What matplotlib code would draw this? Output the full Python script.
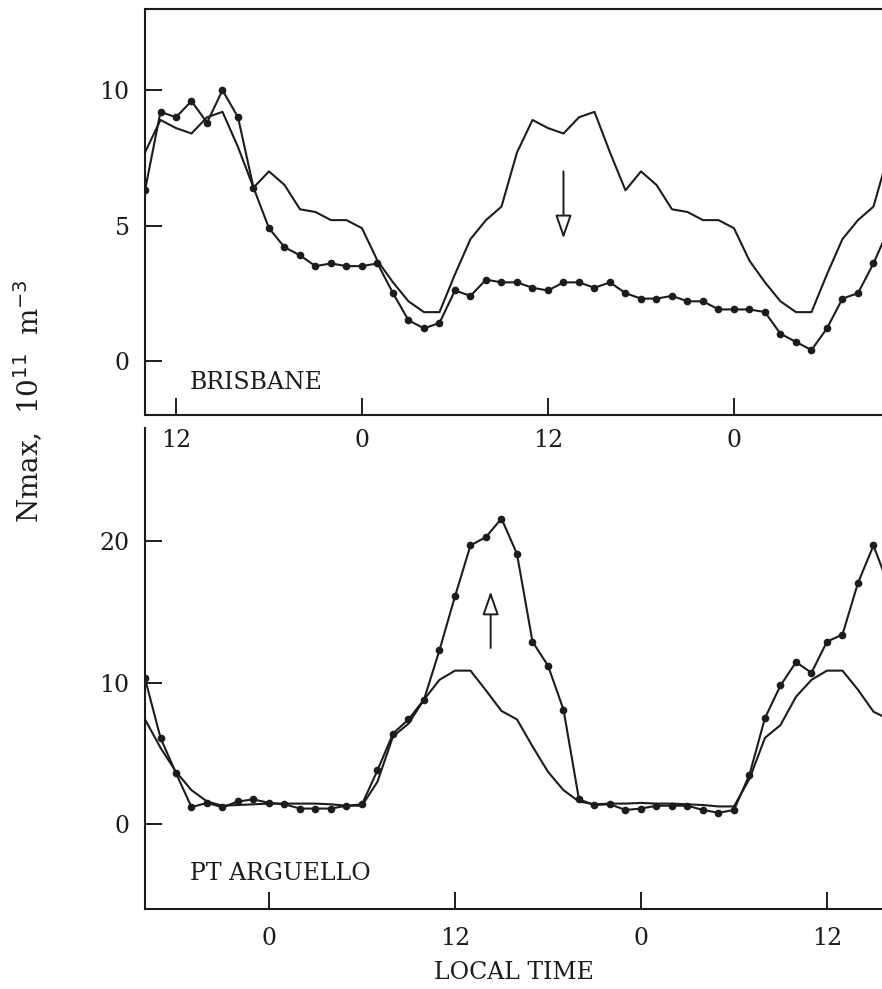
import numpy as np
import matplotlib
matplotlib.use("Agg")
import matplotlib.pyplot as plt

plt.rcParams["font.family"] = ["DejaVu Serif"]
plt.rcParams["font.size"] = 17

INK = "#1c1c1c"

# hourly samples, hours counted from local midnight of day 0
hours_top = np.arange(10, 59)
hours_bot = np.arange(16, 65)

# Brisbane: observed (dotted) and quiet-day reference (plain)
brisbane_obs = [
    6.3, 9.2, 9.0, 9.6, 8.8, 10.0, 9.0, 6.4, 4.9, 4.2, 3.9, 3.5, 3.6, 3.5,
    3.5, 3.6, 2.5, 1.5, 1.2, 1.4, 2.6, 2.4, 3.0, 2.9, 2.9, 2.7, 2.6, 2.9,
    2.9, 2.7, 2.9, 2.5, 2.3, 2.3, 2.4, 2.2, 2.2, 1.9, 1.9, 1.9, 1.8, 1.0,
    0.7, 0.4, 1.2, 2.3, 2.5, 3.6, 4.9,
]
brisbane_ref = [
    7.7, 8.9, 8.6, 8.4, 9.0, 9.2, 7.9, 6.4, 7.0, 6.5, 5.6, 5.5, 5.2, 5.2,
    4.9, 3.7, 2.9, 2.2, 1.8, 1.8, 3.2, 4.5, 5.2, 5.7, 7.7, 8.9, 8.6, 8.4,
    9.0, 9.2, 7.7, 6.3, 7.0, 6.5, 5.6, 5.5, 5.2, 5.2, 4.9, 3.7, 2.9, 2.2,
    1.8, 1.8, 3.2, 4.5, 5.2, 5.7, 7.7,
]

# Pt Arguello: observed (dotted) and quiet-day reference (plain)
arguello_obs = [
    10.3, 6.1, 3.6, 1.2, 1.5, 1.2, 1.6, 1.75, 1.5, 1.4, 1.1, 1.1, 1.1, 1.3,
    1.4, 3.8, 6.4, 7.4, 8.8, 12.3, 16.1, 19.7, 20.3, 21.6, 19.1, 12.9, 11.2,
    8.1, 1.75, 1.35, 1.4, 1.0, 1.1, 1.3, 1.3, 1.3, 1.0, 0.8, 1.0, 3.5, 7.5,
    9.8, 11.45, 10.7, 12.9, 13.4, 17.05, 19.7, 16.8,
]
arguello_ref = [
    7.4, 5.4, 3.7, 2.4, 1.6, 1.3, 1.35, 1.4, 1.45, 1.45, 1.45, 1.45, 1.4,
    1.3, 1.3, 3.0, 6.2, 7.1, 8.8, 10.2, 10.85, 10.85, 9.45, 8.0, 7.4, 5.5,
    3.7, 2.4, 1.6, 1.4, 1.45, 1.45, 1.5, 1.45, 1.45, 1.4, 1.35, 1.25, 1.25,
    3.2, 6.1, 7.0, 9.0, 10.2, 10.85, 10.85, 9.5, 7.95, 7.4,
]

xticks_top = [12, 24, 36, 48]
xlabels_top = ["12", "0", "12", "0"]
xticks_bot = [24, 36, 48, 60]
xlabels_bot = ["0", "12", "0", "12"]
yticks_top = [0, 5, 10]
yticks_bot = [0, 10, 20]

fig = plt.figure(figsize=(8.82, 9.89), dpi=100)
ax1 = fig.add_axes([0.1644, 0.5804, 0.8356, 0.4105])
ax2 = fig.add_axes([0.1644, 0.0809, 0.8356, 0.4863])
# the lower panel must not hide the upper panel's hour labels
ax2.patch.set_visible(False)
ax1.set_zorder(2)
ax1.patch.set_visible(False)


def style(ax, xt, xl, yt, pad_x):
    ax.set_xticks(xt)
    ax.set_xticklabels(xl)
    ax.set_yticks(yt)
    ax.tick_params(direction="in", length=12.5, width=1.4, colors=INK)
    ax.tick_params(axis="x", pad=pad_x)
    ax.tick_params(axis="y", pad=11)
    ax.spines["right"].set_visible(False)
    for s in ax.spines.values():
        s.set_linewidth(1.5)
        s.set_color(INK)


def draw(ax, t, obs, ref):
    ax.plot(t, ref, color=INK, lw=1.5)
    ax.plot(t, obs, color=INK, lw=1.5, marker="o", ms=4.5)


arrow_kw = dict(arrowstyle="-|>,head_length=0.8,head_width=0.28",
                mutation_scale=18, fc="white", ec=INK, lw=1.4,
                shrinkA=0, shrinkB=0)

draw(ax1, hours_top, brisbane_obs, brisbane_ref)
ax1.set_xlim(10, 57.55)
ax1.set_ylim(-2, 13)
style(ax1, xticks_top, xlabels_top, yticks_top, 10)
ax1.text(0.061, 0.081, "BRISBANE", transform=ax1.transAxes,
         ha="left", va="center", color=INK)
ax1.annotate("", xy=(37, 4.52), xytext=(37, 7.0), arrowprops=arrow_kw)

draw(ax2, hours_bot, arguello_obs, arguello_ref)
ax2.set_xlim(16, 63.55)
ax2.set_ylim(-6, 28)
style(ax2, xticks_bot, xlabels_bot, yticks_bot, 13)
ax2.spines["top"].set_visible(False)
ax2.text(0.061, 0.073, "PT ARGUELLO", transform=ax2.transAxes,
         ha="left", va="center", color=INK)
ax2.annotate("", xy=(38.3, 16.45), xytext=(38.3, 12.45), arrowprops=arrow_kw)

ax2.set_xlabel("LOCAL TIME", color=INK, labelpad=8)
fig.text(28 / 882, 1 - 401 / 989, r"Nmax,  10$^{11}$  m$^{-3}$", rotation=90,
         ha="center", va="center", color=INK, fontsize=20)

fig.savefig("out.png", dpi=100)
